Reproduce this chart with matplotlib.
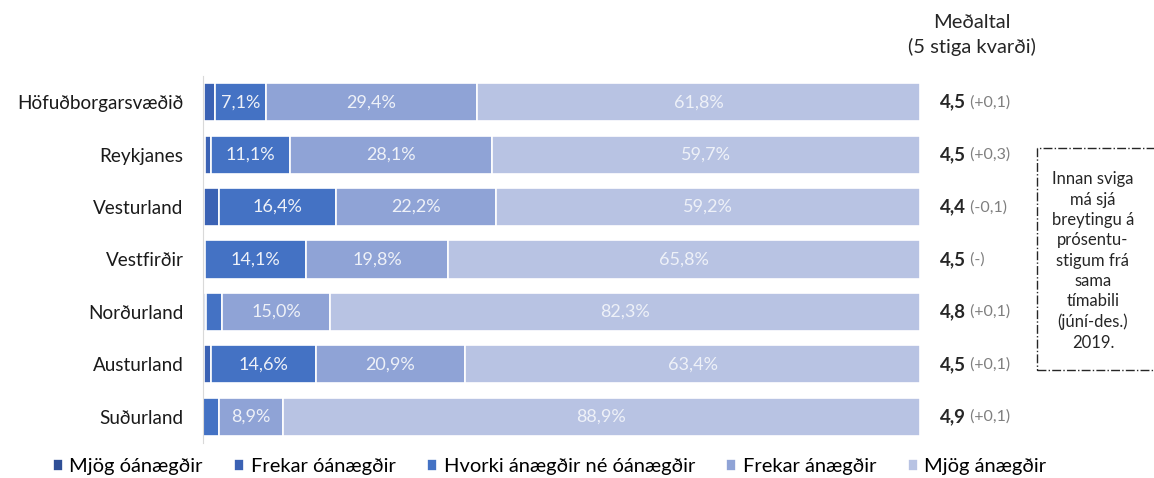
import matplotlib as mpl
mpl.use('Agg')
import matplotlib.pyplot as plt
import numpy as np
from matplotlib.patches import Rectangle

plt.rcParams['font.family'] = ['Lato', 'DejaVu Sans']

# data
regions = ['Höfuðborgarsvæðið', 'Reykjanes', 'Vesturland', 'Vestfirðir',
           'Norðurland', 'Austurland', 'Suðurland']
mjog_oan = [0.2, 0.3, 0.2, 0.0, 0.2, 0.2, 0.0]
frekar_oan = [1.5, 0.8, 2.0, 0.3, 0.2, 0.9, 0.0]
hvorki = [7.1, 11.1, 16.4, 14.1, 2.3, 14.6, 2.2]
frekar_an = [29.4, 28.1, 22.2, 19.8, 15.0, 20.9, 8.9]
mjog_an = [61.8, 59.7, 59.2, 65.8, 82.3, 63.4, 88.9]
means = ['4,5', '4,5', '4,4', '4,5', '4,8', '4,5', '4,9']
changes = ['(+0,1)', '(+0,3)', '(-0,1)', '(-)', '(+0,1)', '(+0,1)', '(+0,1)']

series = [mjog_oan, frekar_oan, hvorki, frekar_an, mjog_an]
names = ['Mjög óánægðir', 'Frekar óánægðir', 'Hvorki ánægðir né óánægðir',
         'Frekar ánægðir', 'Mjög ánægðir']
colors = ['#2f4f96', '#3b62b4', '#4472c4', '#8fa3d6', '#b8c3e3']
show_label = [False, False, True, True, True]

fig = plt.figure(figsize=(11.54, 4.78), dpi=100)
ax = fig.add_axes([203 / 1154, 1 - 443 / 478, 717 / 1154, 367 / 478])

y = np.arange(len(regions))
left = np.zeros(len(regions))
handles = []
for vals, name, col, lab in zip(series, names, colors, show_label):
    vals = np.array(vals)
    bars = ax.barh(y, vals, left=left, height=0.73, color=col,
                   edgecolor='white', linewidth=1.2, label=name)
    handles.append(bars)
    if lab:
        for yi, (l, v) in enumerate(zip(left, vals)):
            if v >= 5:
                ax.text(l + v / 2, yi, ('%.1f%%' % v).replace('.', ','),
                        ha='center', va='center', color='#eef1f8', fontsize=13)
    left += vals

ax.set_xlim(0, 100)
ax.set_ylim(len(regions) - 0.5, -0.5)
ax.set_xticks([])
ax.set_yticks(y)
ax.set_yticklabels(regions, fontsize=13.6, color='#1a1a1a')
ax.tick_params(axis='y', length=0, pad=14)
for s in ['top', 'right', 'bottom']:
    ax.spines[s].set_visible(False)
ax.spines['left'].set_color('#d9d9d9')

# mean column
for yi, (m, c) in enumerate(zip(means, changes)):
    t = ax.text(1.028, yi, m, transform=ax.get_yaxis_transform(),
                ha='left', va='center', fontsize=13.5, fontweight='bold', color='#262626')
    ax.annotate(' ' + c, xy=(1, 0.5), xycoords=t, ha='left', va='center',
                fontsize=11.5, color='#7f7f7f')

fig.text(972 / 1154, 1 - 22 / 478, 'Meðaltal', ha='center', va='center',
         fontsize=14.5, color='#262626')
fig.text(972 / 1154, 1 - 47 / 478, '(5 stiga kvarði)', ha='center', va='center',
         fontsize=14.5, color='#262626')

# note box
box = Rectangle((1037 / 1154, 1 - 370 / 478), 130 / 1154, 222 / 478,
                transform=fig.transFigure, fill=False, linestyle='-.',
                linewidth=1.0, edgecolor='#262626')
fig.add_artist(box)
fig.text(1093 / 1154, 1 - 261 / 478,
         'Innan sviga\nmá sjá\nbreytingu á\nprósentu-\nstigum frá\nsama\ntímabili\n(júní-des.)\n2019.',
         ha='center', va='center', fontsize=12, color='#262626', linespacing=1.33)

# legend
ax.legend(handles=handles, loc='center left', bbox_to_anchor=(-0.221, -0.065),
          ncol=5, frameon=False, fontsize=14.5, handlelength=0.5, handleheight=0.5,
          handletextpad=0.33, columnspacing=1.55, borderaxespad=0)

plt.savefig('out.png', dpi=100)
plt.close()
